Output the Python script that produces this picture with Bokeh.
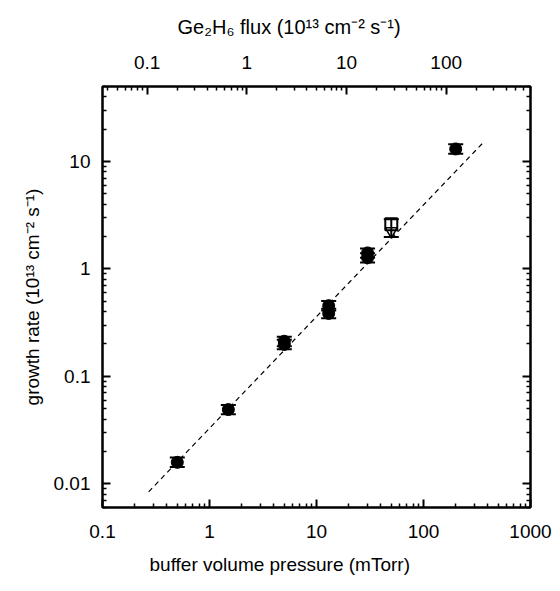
from bokeh.plotting import figure
from bokeh.models import (LogAxis, Range1d, FixedTicker, Whisker, ColumnDataSource,
                          CustomJSTickFormatter, TeeHead, LogScale, Title)
from bokeh.embed import file_html
from bokeh.resources import INLINE

# ---- data ----
pressure = [0.5, 1.5, 5, 5, 13, 13, 30, 30, 200]
rate = [0.0158, 0.049, 0.198, 0.212, 0.455, 0.385, 1.41, 1.27, 13.1]
rate_lo = [0.0143, 0.0443, 0.179, 0.191, 0.410, 0.347, 1.27, 1.145, 11.8]
rate_hi = [0.0175, 0.054, 0.219, 0.234, 0.502, 0.425, 1.55, 1.40, 14.5]

open_pressure = [50]
open_sq_rate = [2.6]
open_tri_rate = [2.25]
open_lo = [1.98]
open_hi = [2.9]

fit_pressure = [0.27, 370]
fit_rate = [0.0084, 15.4]

x_ticks = [0.1, 1, 10, 100, 1000]
y_ticks = [0.01, 0.1, 1, 10]
flux_ticks = [0.1, 1, 10, 100]
flux_range = (0.0356, 701)

x_title = "buffer volume pressure (mTorr)"
y_title = "growth rate (10¹³ cm⁻² s⁻¹)"
top_title = "Ge₂H₆ flux (10¹³ cm⁻² s⁻¹)"

FONT = "Liberation Sans"
FS = "19px"


def minors(lo, hi):
    out = []
    for e in range(-4, 5):
        for m in range(2, 10):
            v = m * 10.0 ** e
            if lo <= v <= hi:
                out.append(v)
    return out


p = figure(width=560, height=591, x_axis_type=None, y_axis_type=None,
           x_range=Range1d(0.1, 1000), y_range=Range1d(0.006, 50),
           output_backend="svg", toolbar_location=None,
           min_border_left=102, min_border_right=30,
           min_border_top=86, min_border_bottom=84)
p.x_scale = LogScale()
p.y_scale = LogScale()
p.grid.visible = False
p.outline_line_color = "black"
p.outline_line_width = 2
p.background_fill_color = "white"
p.border_fill_color = "white"

p.extra_x_ranges = {"flux": Range1d(*flux_range)}
p.extra_x_scales = {"flux": LogScale()}

plain = CustomJSTickFormatter(code="return tick.toString()")


def style(ax):
    ax.axis_line_width = 2
    ax.major_tick_in = 8
    ax.major_tick_out = 0
    ax.minor_tick_in = 4
    ax.minor_tick_out = 0
    ax.major_tick_line_width = 2
    ax.minor_tick_line_width = 1.5
    ax.major_label_text_font = FONT
    ax.major_label_text_font_size = FS
    ax.major_label_text_color = "black"
    ax.axis_label_text_font = FONT
    ax.axis_label_text_font_size = FS
    ax.axis_label_text_font_style = "normal"
    ax.axis_label_text_color = "black"


bottom = LogAxis(ticker=FixedTicker(ticks=x_ticks, minor_ticks=minors(0.1, 1000)),
                 formatter=plain)
style(bottom)
bottom.major_label_standoff = 17
p.add_layout(bottom, "below")

left = LogAxis(ticker=FixedTicker(ticks=y_ticks, minor_ticks=minors(0.006, 50)),
               formatter=plain, axis_label=y_title)
style(left)
left.major_label_standoff = 12
left.axis_label_standoff = 8
p.add_layout(left, "left")

top = LogAxis(x_range_name="flux",
              ticker=FixedTicker(ticks=flux_ticks, minor_ticks=minors(*flux_range)),
              formatter=plain)
style(top)
top.major_label_standoff = 18
p.add_layout(top, "above")

right = LogAxis(ticker=FixedTicker(ticks=y_ticks, minor_ticks=minors(0.006, 50)),
                formatter=CustomJSTickFormatter(code="return ''"))
style(right)
p.add_layout(right, "right")

# titles, centred on the whole picture as in the reference
p.add_layout(Title(text=x_title, align="left", offset=47, text_font=FONT,
                   text_font_size=FS, text_font_style="normal", text_color="black",
                   standoff=22), "below")
p.add_layout(Title(text=top_title, align="left", offset=75, text_font=FONT,
                   text_font_size="20px", text_font_style="normal", text_color="black",
                   vertical_align="top", standoff=26), "above")

# fit line
p.line(fit_pressure, fit_rate, line_color="black", line_width=1.2, line_dash="5 4")

# error bars
src = ColumnDataSource(dict(x=pressure, y=rate, lo=rate_lo, hi=rate_hi))
p.add_layout(Whisker(source=src, base="x", lower="lo", upper="hi", dimension="height",
                     line_width=2, line_color="black",
                     upper_head=TeeHead(size=15, line_width=2, line_color="black"),
                     lower_head=TeeHead(size=15, line_width=2, line_color="black")))
osrc = ColumnDataSource(dict(x=open_pressure, lo=open_lo, hi=open_hi))
p.add_layout(Whisker(source=osrc, base="x", lower="lo", upper="hi", dimension="height",
                     line_width=2, line_color="black",
                     upper_head=TeeHead(size=15, line_width=2, line_color="black"),
                     lower_head=TeeHead(size=15, line_width=2, line_color="black")))

p.scatter(x="x", y="y", source=src, marker="circle", size=12,
          fill_color="black", line_color="black")
p.scatter(open_pressure, open_sq_rate, marker="square", size=12,
          fill_color="white", fill_alpha=0, line_color="black", line_width=2)
p.scatter(open_pressure, open_tri_rate, marker="inverted_triangle", size=12,
          fill_color="white", fill_alpha=0, line_color="black", line_width=1.5)

open("out.html", "w").write(file_html(p, INLINE))
